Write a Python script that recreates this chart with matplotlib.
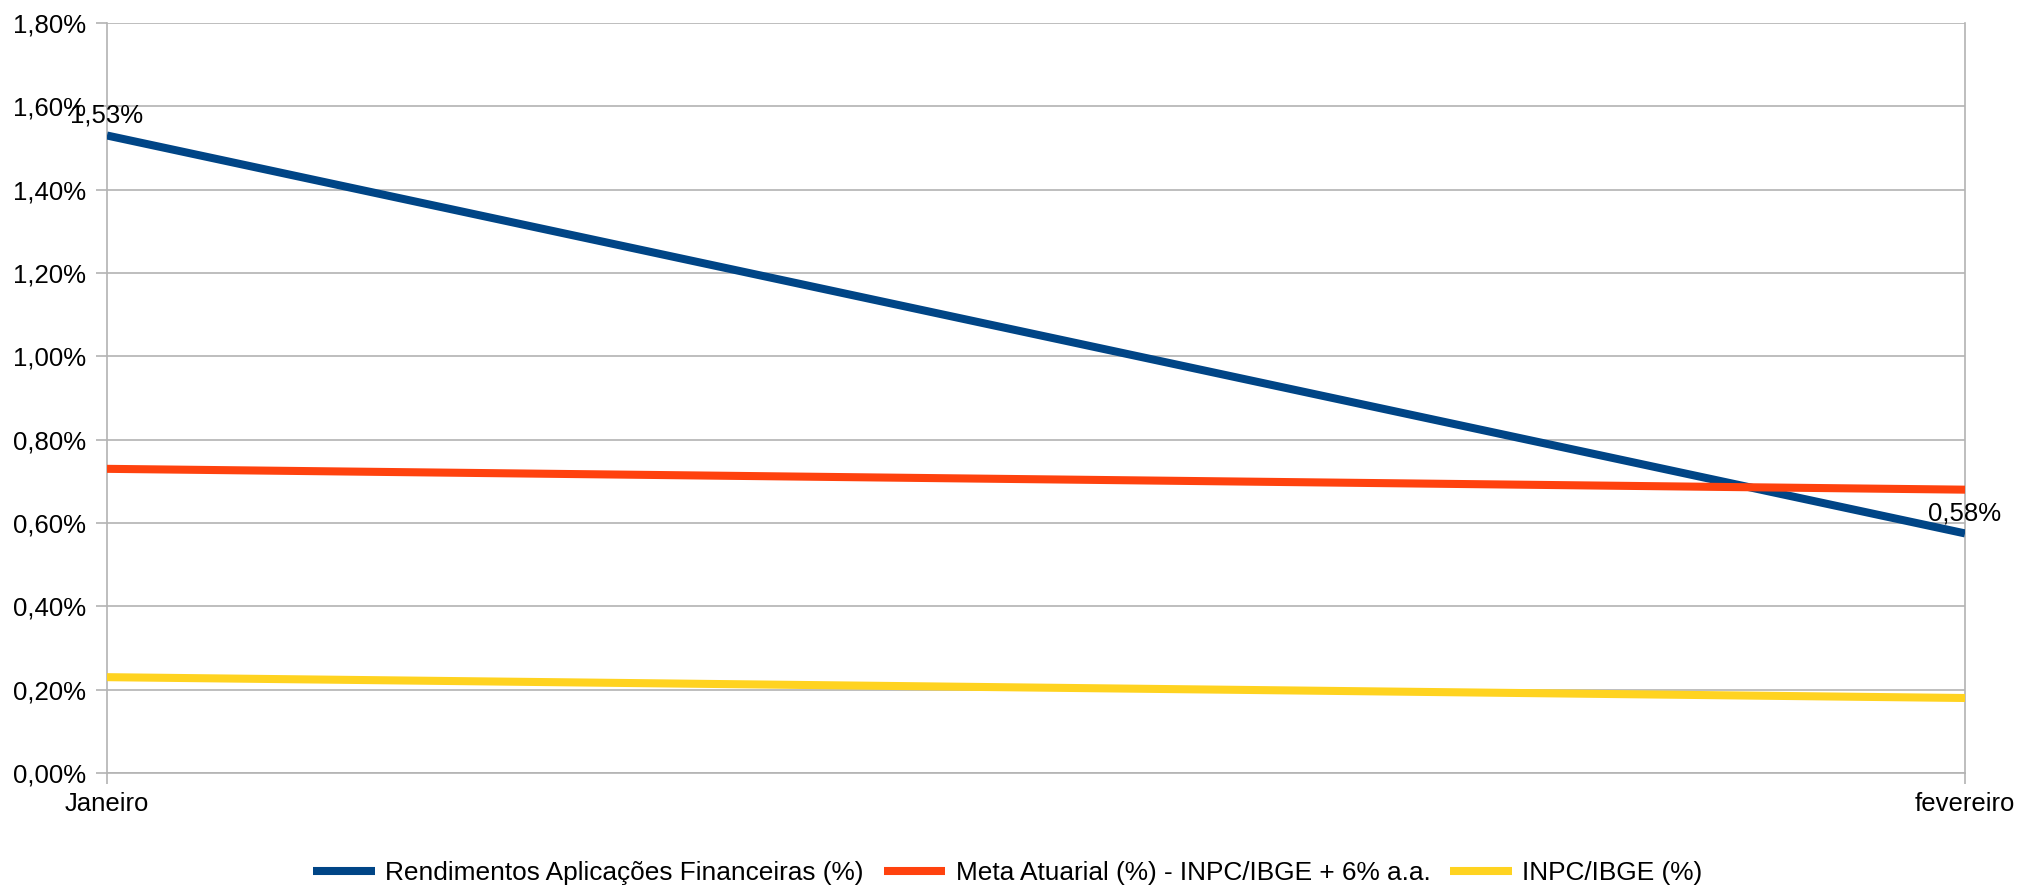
import matplotlib
matplotlib.use("Agg")
import matplotlib.pyplot as plt
from matplotlib.ticker import FuncFormatter, MultipleLocator

plt.rcParams['font.family'] = ['Liberation Sans', 'DejaVu Sans']

categories = ["Janeiro", "fevereiro"]
rendimentos = [1.53, 0.575]
meta_atuarial = [0.73, 0.68]
inpc = [0.23, 0.18]
series_names = ["Rendimentos Aplicações Financeiras (%)",
                "Meta Atuarial (%) - INPC/IBGE + 6% a.a.",
                "INPC/IBGE (%)"]
rend_labels = ["1,53%", "0,58%"]

colors = ["#004586", "#ff420e", "#ffd320"]

FS = 18.5

fig = plt.figure(figsize=(20.21, 8.88), dpi=100)
ax = fig.add_axes([107/2021, 1-773/888, (1965-107)/2021, (773-23)/888])

x = list(range(len(categories)))
for vals, name, c in zip([rendimentos, meta_atuarial, inpc], series_names, colors):
    ax.plot(x, vals, color=c, lw=5.8, label=name, solid_capstyle='butt', zorder=3)

for xi, v, lab in zip(x, rendimentos, rend_labels):
    ax.annotate(lab, (xi, v), xytext=(0, 20), textcoords='offset pixels',
                ha='center', va='center', fontsize=FS, color='#000000', zorder=5,
                annotation_clip=False)

ax.set_xlim(0, 1)
ax.set_ylim(0, 1.8)
ax.yaxis.set_major_locator(MultipleLocator(0.2))
ax.yaxis.set_major_formatter(FuncFormatter(lambda v, p: f"{v:.2f}%".replace('.', ',')))
ax.set_xticks(x)
ax.set_xticklabels(categories)

ax.grid(axis='y', color='#b3b3b3', lw=1.2, zorder=0)
ax.spines['top'].set_visible(False)
for s in ['left', 'right', 'bottom']:
    ax.spines[s].set_color('#b3b3b3')
    ax.spines[s].set_linewidth(1.2)

ax.tick_params(axis='y', length=8, width=1.2, color='#b3b3b3', pad=7, labelsize=FS, labelcolor='#000000')
ax.tick_params(axis='x', length=8, width=1.2, color='#b3b3b3', pad=6, labelsize=FS, labelcolor='#000000')

fig.legend(loc='center', bbox_to_anchor=(1008/2021, 1-873/888), ncol=3, frameon=False,
           fontsize=18.9, handlelength=2.35, handletextpad=0.4, columnspacing=0.75)

fig.savefig("out.png", dpi=100, facecolor='white')
